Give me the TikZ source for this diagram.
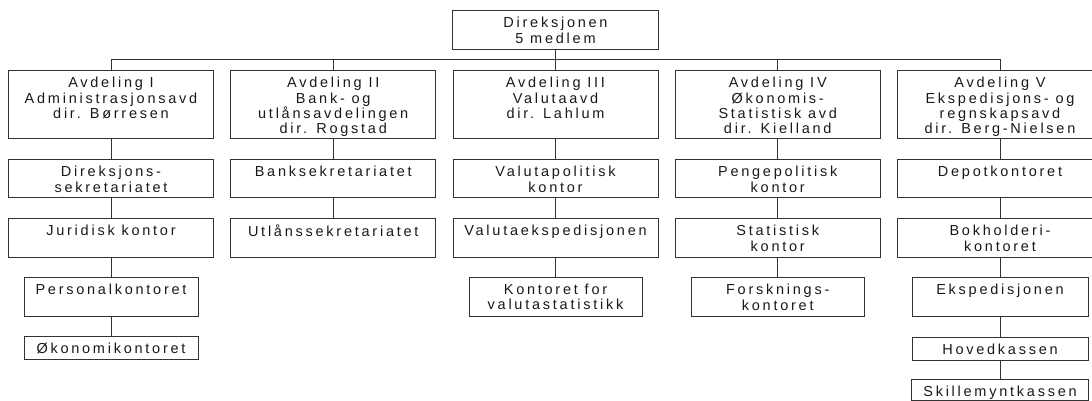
\documentclass[tikz,border=0pt]{standalone}
\usepackage{fontspec}
\setmainfont[LetterSpace=19]{Liberation Sans}
\usepackage{tikz}
\usetikzlibrary{positioning,calc}

\tikzset{
  kasse/.style={draw=black!80, line width=0.9pt, anchor=north, minimum width=205pt, inner sep=0pt},
  tekst/.style={anchor=north, align=center, inner sep=0pt, yshift=-7pt, text=black!90, font=\fontsize{14.5pt}{15.3pt}\selectfont},
  strek/.style={black!80, line width=0.9pt}
}
% \kasse[Breite]{Name}{x,y oben}{Hoehe}{Text}
\newcommand{\kasse}[5][205]{%
  \node[kasse, minimum width=#1pt, minimum height=#4pt, label={[tekst]north:#5}] (#2) at (#3) {};}

\begin{document}
\begin{tikzpicture}[x=1pt,y=-1pt]
\useasboundingbox (0,0) rectangle (1092,401);
%Direktion oben, darunter die fuenf Abteilungen
\kasse[206]{dir}{555.5,10}{39}{Direksjonen\\5 medlem}
\kasse{av1}{111,70}{68}{Avdeling I\\Administrasjonsavd\\dir. Børresen}
\kasse{av2}{333.25,70}{68}{Avdeling II\\Bank- og\\utlånsavdelingen\\dir. Rogstad}
\kasse{av3}{555.5,70}{68}{Avdeling III\\Valutaavd\\dir. Lahlum}
\kasse{av4}{777.75,70}{68}{Avdeling IV\\Økonomis-\\Statistisk avd\\dir. Kielland}
\kasse{av5}{1000,70}{68}{Avdeling V\\Ekspedisjons- og\\regnskapsavd\\dir. Berg-Nielsen}
%zweite Reihe
\kasse{ka1}{111,159}{38}{Direksjons-\\sekretariatet}
\kasse{ka2}{333.25,159}{38}{Banksekretariatet}
\kasse{ka3}{555.5,159}{38}{Valutapolitisk\\kontor}
\kasse{ka4}{777.75,159}{38}{Pengepolitisk\\kontor}
\kasse{ka5}{1000,159}{38}{Depotkontoret}
%dritte Reihe
\kasse{kb1}{111,218}{39}{Juridisk kontor}
\kasse{kb2}{333.25,218}{39}{Utlånssekretariatet}
\kasse{kb3}{555.5,218}{39}{Valutaekspedisjonen}
\kasse{kb4}{777.75,218}{39}{Statistisk\\kontor}
\kasse{kb5}{1000,218}{39}{Bokholderi-\\kontoret}
%schmalere Kaesten unten
\kasse[174]{kc1}{111,277}{39}{Personalkontoret}
\kasse[173]{kc3}{555.5,277}{39}{Kontoret for\\valutastatistikk}
\kasse[173]{kc4}{777.75,277}{39}{Forsknings-\\kontoret}
\kasse[176]{kc5}{1000,277}{39}{Ekspedisjonen}
\kasse[174]{kd1}{111,336}{23}{Økonomikontoret}
\kasse[176]{kd5}{1000,337}{23}{Hovedkassen}
\kasse[177]{ke5}{1000,379}{21}{Skillemyntkassen}
%Linien
\coordinate (bus) at (0,59);
\draw[strek] (dir.south) -- (dir.south |- bus);
\draw[strek] (av1.north |- bus) -- (av5.north |- bus);
\foreach \i in {1,...,5}{
\draw[strek] (av\i.north) -- (av\i.north |- bus);
\draw[strek] (av\i.south) -- (ka\i.north);
\draw[strek] (ka\i.south) -- (kb\i.north);
}
\foreach \oben/\unten in {kb1/kc1,kc1/kd1,kb3/kc3,kb4/kc4,kb5/kc5,kc5/kd5,kd5/ke5}{
\draw[strek] (\oben.south) -- (\unten.north);
}
\end{tikzpicture}
\end{document}
